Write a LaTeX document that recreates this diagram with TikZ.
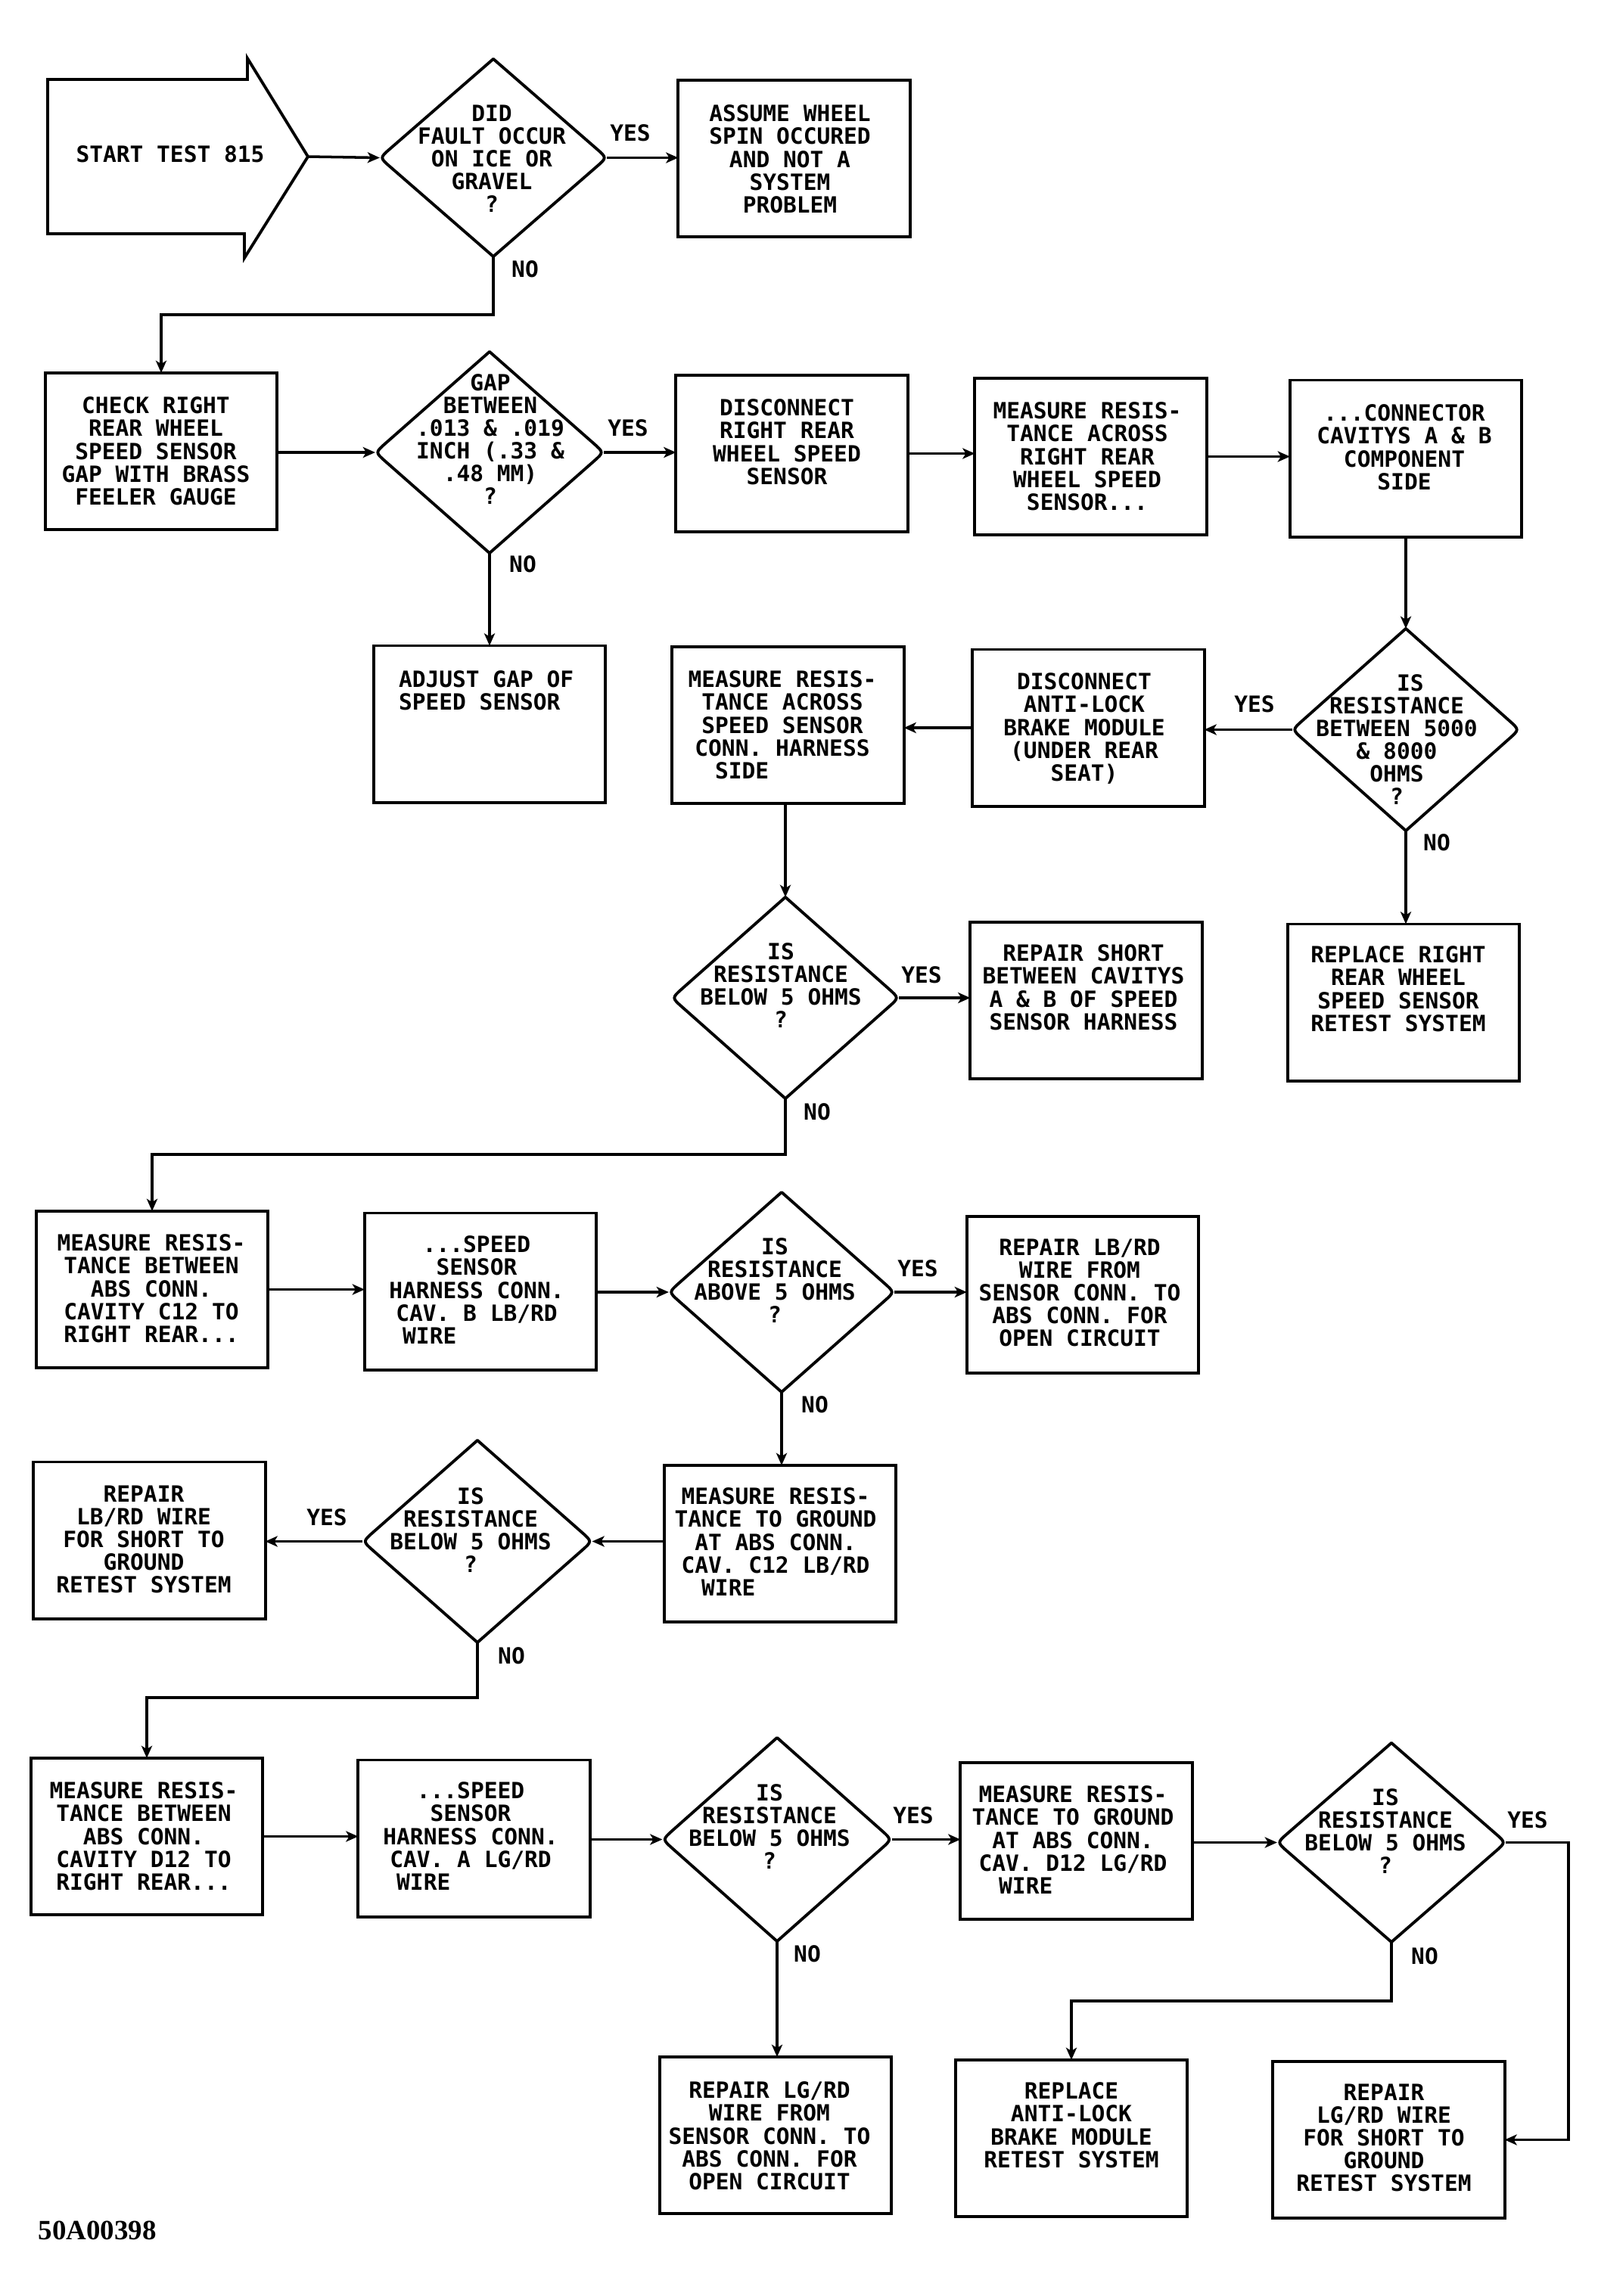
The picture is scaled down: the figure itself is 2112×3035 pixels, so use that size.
\documentclass[tikz,border=0pt]{standalone}
\usepackage{fontspec}
\newfontfamily\lettfont{DejaVu Sans Mono}
\newfontfamily\codefont{Liberation Serif}
\usetikzlibrary{arrows.meta,shapes.geometric,calc}
\newcommand\lett{\lettfont\bfseries\fontsize{8.4pt}{8.54pt}\selectfont\lineskiplimit=-20pt\relax}
\newcommand\diaout[1]{\draw[dline] (#1.north) -- ($(#1.east)!0.09!(#1.north)$) .. controls (#1.east) .. ($(#1.east)!0.09!(#1.south)$) -- (#1.south) -- ($(#1.west)!0.09!(#1.south)$) .. controls (#1.west) .. ($(#1.west)!0.09!(#1.north)$) -- cycle;}
\begin{document}
\begin{tikzpicture}[x=0.01cm,y=-0.01cm,
  box/.style={draw, line width=1.1pt, minimum width=3.06cm, minimum height=2.07cm, inner sep=0pt, outer sep=0pt},
  dia/.style={shape=diamond, draw=none, inner sep=0pt, outer sep=0pt},
  txt/.style={inner sep=0pt, outer sep=0pt, align=center, font=\lett, anchor=north},
  lab/.style={inner sep=0pt, outer sep=0pt, font=\lett},
  arr/.style={line width=1pt, -{Stealth[length=4.6pt,width=4pt,inset=1.2pt]}},
  dline/.style={line width=1.1pt, line join=round}]
\fill[white] (0,0) rectangle (2112,3035);
\useasboundingbox (0,0) rectangle (2112,3035);

% start arrow
\draw[line width=1.1pt, line join=miter] (63,105) -- (327,105) -- (327,77) -- (407,207) -- (323,341) -- (323,309) -- (63,309) -- cycle;
\coordinate (starttip) at (407,207);
\node[txt] (t0) at (225,193) {START TEST 815};

% diamonds
\node[dia, minimum width=3.00cm, minimum height=2.61cm] (d1) at (652,208.5) {};
\node[dia, minimum width=3.02cm, minimum height=2.66cm] (d2) at (647,598) {};
\node[dia, minimum width=3.00cm, minimum height=2.67cm] (d3) at (1858,964.5) {};
\node[dia, minimum width=3.00cm, minimum height=2.66cm] (d4) at (1038,1319) {};
\node[dia, minimum width=2.98cm, minimum height=2.64cm] (d5) at (1033,1708) {};
\node[dia, minimum width=3.03cm, minimum height=2.67cm] (d6) at (631,2037.5) {};
\node[dia, minimum width=3.03cm, minimum height=2.69cm] (d7) at (1027,2431.5) {};
\node[dia, minimum width=3.02cm, minimum height=2.63cm] (d8) at (1839,2435.5) {};
\diaout{d1}\diaout{d2}\diaout{d3}\diaout{d4}\diaout{d5}\diaout{d6}\diaout{d7}\diaout{d8}

% boxes
\node[box] (b1) at (1049.5,209.5) {};
\node[box] (b2) at (213,596.5) {};
\node[box] (b3) at (1046.5,599.5) {};
\node[box] (b4) at (1441.5,603.5) {};
\node[box] (b5) at (1858,606) {};
\node[box] (b21) at (647,957) {};
\node[box] (b6) at (1438.5,962) {};
\node[box] (b7) at (1041.5,958.5) {};
\node[box] (b8) at (1435.5,1322.5) {};
\node[box] (b9) at (1855,1325) {};
\node[box] (b10) at (201,1704.5) {};
\node[box] (b11) at (635,1707) {};
\node[box] (b12) at (1431,1711.5) {};
\node[box] (b13) at (1031,2040.5) {};
\node[box] (b14) at (197.5,2036) {};
\node[box] (b15) at (194,2427.5) {};
\node[box] (b16) at (626.5,2430) {};
\node[box] (b17) at (1422.5,2433.5) {};
\node[box] (b18) at (1025,2822.5) {};
\node[box] (b19) at (1416,2826.5) {};
\node[box] (b20) at (1835.5,2828.5) {};

% texts
\node[txt] (td1) at (650,138.5) {DID\\FAULT OCCUR\\ON ICE OR\\GRAVEL\\?};
\node[txt] (tb1) at (1044,139) {ASSUME WHEEL\\SPIN OCCURED\\AND NOT A\\SYSTEM\\PROBLEM};
\node[txt] (tb2) at (206,525) {CHECK RIGHT\\REAR WHEEL\\SPEED SENSOR\\GAP WITH BRASS\\FEELER GAUGE};
\node[txt] (td2) at (648,494.5) {GAP\\BETWEEN\\.013 \& .019\\INCH (.33 \&\\.48 MM)\\?};
\node[txt] (tb3) at (1040,528) {DISCONNECT\\RIGHT REAR\\WHEEL SPEED\\SENSOR};
\node[txt] (tb4) at (1437,532) {MEASURE RESIS-\\TANCE ACROSS\\RIGHT REAR\\WHEEL SPEED\\SENSOR...};
\node[txt] (tb5) at (1856,535) {...CONNECTOR\\CAVITYS A \& B\\COMPONENT\\SIDE};
\node[txt, align=left, anchor=north west] (tb21) at (527,887) {ADJUST GAP OF\\SPEED SENSOR};
\node[txt] (td3) at (1846,891.5) {\phantom{XX}IS\\RESISTANCE\\BETWEEN 5000\\\& 8000\\OHMS\\?};
\node[txt] (tb6) at (1433,890) {DISCONNECT\\ANTI-LOCK\\BRAKE MODULE\\(UNDER REAR\\SEAT)};
\node[txt] (tb7) at (1034,887) {MEASURE RESIS-\\TANCE ACROSS\\SPEED SENSOR\\CONN. HARNESS\\SIDE\phantom{XXXXXX}};
\node[txt] (td4) at (1032,1246.5) {IS\\RESISTANCE\\BELOW 5 OHMS\\?};
\node[txt] (tb8) at (1432,1249) {REPAIR SHORT\\BETWEEN CAVITYS\\A \& B OF SPEED\\SENSOR HARNESS};
\node[txt] (tb9) at (1848,1251) {REPLACE RIGHT\\REAR WHEEL\\SPEED SENSOR\\RETEST SYSTEM};
\node[txt] (tb10) at (200,1632) {MEASURE RESIS-\\TANCE BETWEEN\\ABS CONN.\\CAVITY C12 TO\\RIGHT REAR...};
\node[txt] (tb11) at (630,1634) {...SPEED\\SENSOR\\HARNESS CONN.\\CAV. B LB/RD\\WIRE\phantom{XXXXXXX}};
\node[txt] (td5) at (1024,1636.5) {IS\\RESISTANCE\\ABOVE 5 OHMS\\?};
\node[txt] (tb12) at (1427,1638) {REPAIR LB/RD\\WIRE FROM\\SENSOR CONN. TO\\ABS CONN. FOR\\OPEN CIRCUIT};
\node[txt] (tb13) at (1025,1967) {MEASURE RESIS-\\TANCE TO GROUND\\AT ABS CONN.\\CAV. C12 LB/RD\\WIRE\phantom{XXXXXXX}};
\node[txt] (td6) at (622,1966.5) {IS\\RESISTANCE\\BELOW 5 OHMS\\?};
\node[txt] (tb14) at (190,1964) {REPAIR\\LB/RD WIRE\\FOR SHORT TO\\GROUND\\RETEST SYSTEM};
\node[txt] (tb15) at (190,2356) {MEASURE RESIS-\\TANCE BETWEEN\\ABS CONN.\\CAVITY D12 TO\\RIGHT REAR...};
\node[txt] (tb16) at (622,2356) {...SPEED\\SENSOR\\HARNESS CONN.\\CAV. A LG/RD\\WIRE\phantom{XXXXXXX}};
\node[txt] (td7) at (1017,2358.5) {IS\\RESISTANCE\\BELOW 5 OHMS\\?};
\node[txt] (tb17) at (1418,2361) {MEASURE RESIS-\\TANCE TO GROUND\\AT ABS CONN.\\CAV. D12 LG/RD\\WIRE\phantom{XXXXXXX}};
\node[txt] (td8) at (1831,2364.5) {IS\\RESISTANCE\\BELOW 5 OHMS\\?};
\node[txt] (tb18) at (1017,2752) {REPAIR LG/RD\\WIRE FROM\\SENSOR CONN. TO\\ABS CONN. FOR\\OPEN CIRCUIT};
\node[txt] (tb19) at (1416,2753) {REPLACE\\ANTI-LOCK\\BRAKE MODULE\\RETEST SYSTEM};
\node[txt] (tb20) at (1829,2755) {REPAIR\\LG/RD WIRE\\FOR SHORT TO\\GROUND\\RETEST SYSTEM};

% yes / no labels
\node[lab] (y1) at (833,176) {YES};
\node[lab] (n1) at (694,356) {NO};
\node[lab] (y2) at (830,566) {YES};
\node[lab] (n2) at (691,746) {NO};
\node[lab] (y3) at (1658,931) {YES};
\node[lab] (n3) at (1899,1114) {NO};
\node[lab] (y4) at (1218,1289) {YES};
\node[lab] (n4) at (1080,1470) {NO};
\node[lab] (y5) at (1213,1677) {YES};
\node[lab] (n5) at (1077,1857) {NO};
\node[lab] (y6) at (432,2006) {YES};
\node[lab] (n6) at (676,2189) {NO};
\node[lab] (y7) at (1207,2400) {YES};
\node[lab] (n7) at (1067,2583) {NO};
\node[lab] (y8) at (2019,2406) {YES};
\node[lab] (n8) at (1883,2586) {NO};

\node[anchor=base west, inner sep=0pt, font=\codefont\bfseries\fontsize{10.5pt}{12pt}\selectfont] (code) at (50,2960) {50A00398};

% connectors
\draw[arr] (starttip) -- (d1.west);
\draw[arr] (d1.east) -- (d1.east -| b1.west);
\draw[arr] (d1.south) -- ++(0,77) -| (b2.north);
\draw[arr] (d2.west -| b2.east) -- (d2.west);
\draw[arr] (d2.east) -- (d2.east -| b3.west);
\draw[arr] (b3.east) -- (b3.east -| b4.west);
\draw[arr] (b4.east) -- (b4.east -| b5.west);
\draw[arr] (b5.south) -- (d3.north);
\draw[arr] (d2.south) -- (b21.north);
\draw[arr] (d3.west) -- (d3.west -| b6.east);
\draw[arr] (b6.west) -- (b6.west -| b7.east);
\draw[arr] (d4.north |- b7.south) -- (d4.north);
\draw[arr] (d3.south) -- (d3.south |- b9.north);
\draw[arr] (d4.east) -- (d4.east -| b8.west);
\draw[arr] (d4.south) -- ++(0,74) -| (b10.north);
\draw[arr] (b10.east) -- (b10.east -| b11.west);
\draw[arr] (d5.west -| b11.east) -- (d5.west);
\draw[arr] (d5.east) -- (d5.east -| b12.west);
\draw[arr] (d5.south) -- (d5.south |- b13.north);
\draw[arr] (d6.east -| b13.west) -- (d6.east);
\draw[arr] (d6.west) -- (d6.west -| b14.east);
\draw[arr] (d6.south) -- ++(0,73) -| (b15.north);
\draw[arr] (b15.east) -- (b15.east -| b16.west);
\draw[arr] (d7.west -| b16.east) -- (d7.west);
\draw[arr] (d7.east) -- (d7.east -| b17.west);
\draw[arr] (d8.west -| b17.east) -- (d8.west);
\draw[arr] (d7.south) -- (d7.south |- b18.north);
\draw[arr] (d8.south) -- ++(0,78) -| (b19.north);
\draw[arr] (d8.east) -- ++(83,0) |- (b20.east);
\end{tikzpicture}
\end{document}
